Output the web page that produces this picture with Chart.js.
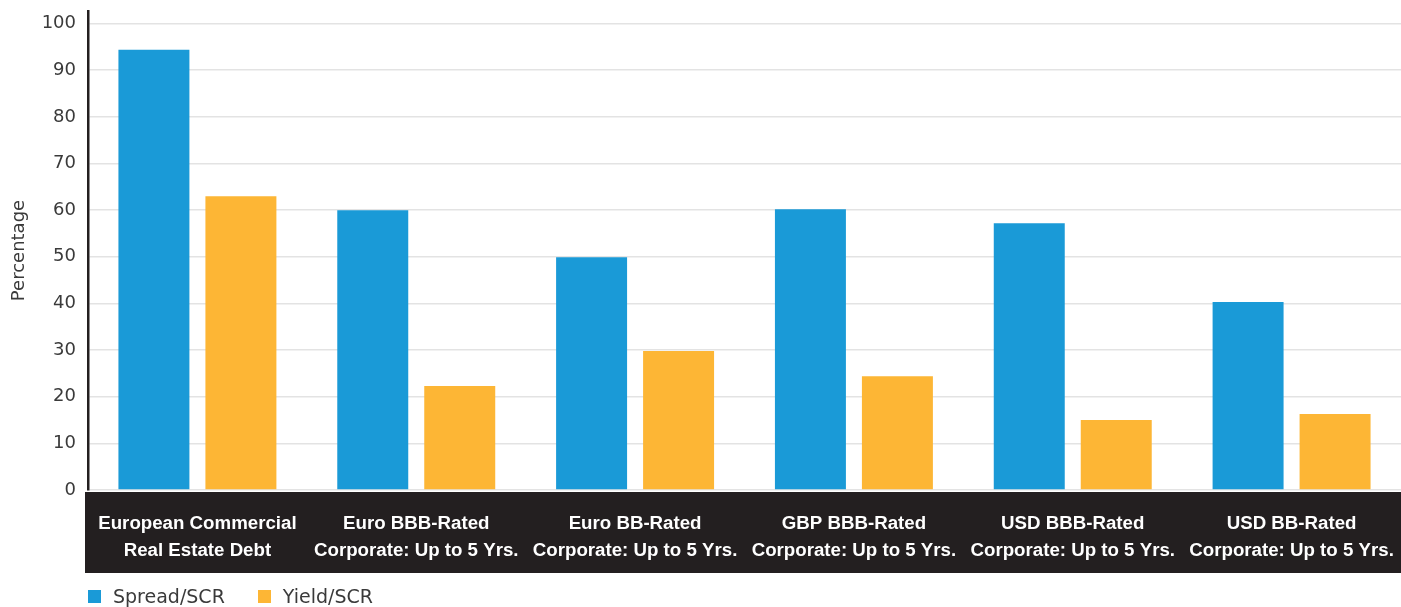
<!DOCTYPE html>
<html>
<head>
<meta charset="utf-8">
<script src="https://cdn.jsdelivr.net/npm/chart.js@4.4.1/dist/chart.umd.min.js"></script>
<style>
  html, body { margin: 0; padding: 0; background: #ffffff; }
  #wrap { position: relative; width: 1401px; height: 607px; }
  #legend { position: absolute; left: 88px; top: 585px; display: flex; font-family: "DejaVu Sans", sans-serif; font-size: 19px; color: #3a3a3a; }
  .item { display: flex; align-items: center; margin-right: 33px; }
  .box { width: 13px; height: 13px; margin-right: 12px; }
</style>
</head>
<body>
<div id="wrap">
  <canvas id="c" width="1401" height="607"></canvas>
  <div id="legend"></div>
</div>
<script>
const categories = [
  ["European Commercial", "Real Estate Debt"],
  ["Euro BBB-Rated", "Corporate: Up to 5 Yrs."],
  ["Euro BB-Rated", "Corporate: Up to 5 Yrs."],
  ["GBP BBB-Rated", "Corporate: Up to 5 Yrs."],
  ["USD BBB-Rated", "Corporate: Up to 5 Yrs."],
  ["USD BB-Rated", "Corporate: Up to 5 Yrs."]
];
const spreadSCR = [94.4, 60.0, 49.9, 60.2, 57.2, 40.3];
const yieldSCR = [63.0, 22.3, 29.8, 24.4, 15.0, 16.3];
const seriesNames = ["Spread/SCR", "Yield/SCR"];
const seriesColors = ["#1a9ad7", "#fdb635"];
const yTicks = [0, 10, 20, 30, 40, 50, 60, 70, 80, 90, 100];

const bandPlugin = {
  id: 'band',
  beforeDraw(chart) {
    const ctx = chart.ctx;
    const a = chart.chartArea;
    const xs = chart.scales.x;
    ctx.save();
    ctx.fillStyle = '#231f20';
    ctx.fillRect(a.left - 3, a.bottom + 2, chart.width - (a.left - 3), xs.bottom - a.bottom - 2);
    ctx.restore();
  }
};

const chart = new Chart(document.getElementById('c'), {
  type: 'bar',
  data: {
    labels: categories,
    datasets: [
      { label: seriesNames[0], data: spreadSCR, backgroundColor: seriesColors[0] },
      { label: seriesNames[1], data: yieldSCR, backgroundColor: seriesColors[1] }
    ]
  },
  options: {
    responsive: false,
    animation: false,
    layout: { padding: { top: 11, right: 0, bottom: 34, left: 0 } },
    datasets: { bar: { categoryPercentage: 0.795, barPercentage: 0.816 } },
    plugins: { legend: { display: false }, tooltip: { enabled: false } },
    scales: {
      x: {
        grid: { display: false, drawTicks: false },
        border: { display: false },
        ticks: {
          color: '#ffffff',
          font: { family: '"Liberation Sans", Arial, sans-serif', size: 18.7, weight: 'bold', lineHeight: 1.45 },
          padding: 20,
          maxRotation: 0,
          autoSkip: false
        },
        afterFit(scale) { scale.height = 83; scale.paddingLeft = 0; scale.paddingRight = 0; }
      },
      y: {
        min: 0,
        max: 102.7,
        afterBuildTicks(scale) { scale.ticks = yTicks.map(v => ({ value: v })); },
        grid: { color: '#e3e3e3', lineWidth: 1.5, drawTicks: false },
        border: { color: '#231f20', width: 2.5 },
        ticks: {
          color: '#3a3a3a',
          font: { family: '"DejaVu Sans", sans-serif', size: 18 },
          padding: 12
        },
        title: {
          display: true,
          text: 'Percentage',
          color: '#3a3a3a',
          font: { family: '"DejaVu Sans", sans-serif', size: 18 },
          padding: { top: 9, bottom: 0 }
        },
        afterFit(scale) { scale.width = 88; scale.paddingTop = 0; scale.paddingBottom = 0; }
      }
    }
  },
  plugins: [bandPlugin]
});

const legend = document.getElementById('legend');
seriesNames.forEach((n, i) => {
  const it = document.createElement('div');
  it.className = 'item';
  const b = document.createElement('div');
  b.className = 'box';
  b.style.background = seriesColors[i];
  const t = document.createElement('span');
  t.textContent = n;
  it.appendChild(b); it.appendChild(t);
  legend.appendChild(it);
});
</script>
</body>
</html>
